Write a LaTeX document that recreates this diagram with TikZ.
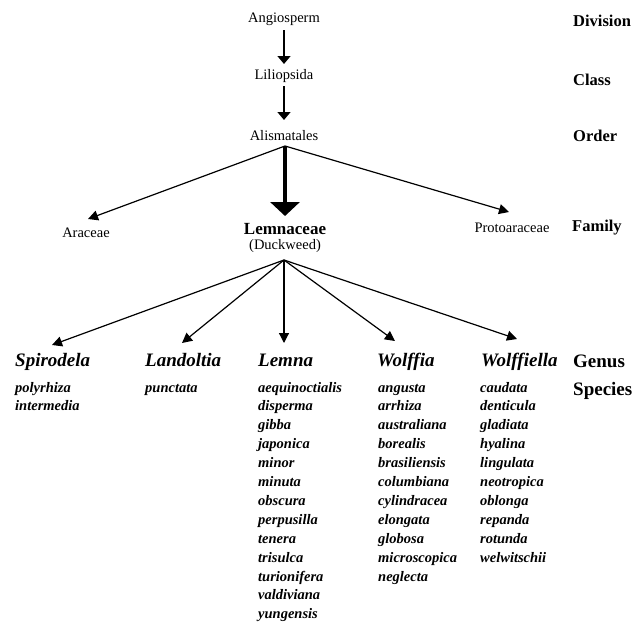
\documentclass[tikz,border=0pt]{standalone}
\usepackage{fontspec}
\setmainfont{Liberation Serif}
\usetikzlibrary{arrows.meta}
\begin{document}
\begin{tikzpicture}[x=1pt,y=-1pt,
  reg/.style={font=\fontsize{14.5}{17}\selectfont, inner sep=0pt, anchor=base},
  regb/.style={font=\fontsize{17}{20}\selectfont\bfseries, inner sep=0pt, anchor=base},
  rank/.style={font=\fontsize{16.5}{19}\selectfont\bfseries, inner sep=0pt, anchor=base west},
  rankbig/.style={font=\fontsize{19}{22}\selectfont\bfseries, inner sep=0pt, anchor=base west},
  genus/.style={font=\fontsize{19}{22}\selectfont\bfseries\itshape, inner sep=0pt, anchor=base west},
  spec/.style={font=\fontsize{14.5}{17}\selectfont\bfseries\itshape, inner sep=0pt, anchor=base west},
  smallarr/.style={line width=1.4pt, -{Triangle[width=13pt,length=8pt]}},
  bigarr/.style={line width=3.4pt, -{Triangle[width=29pt,length=14pt]}},
  fanarr/.style={line width=1.2pt, -{Triangle[width=10pt,length=10pt]}},
]
\useasboundingbox (0,0) rectangle (635,624);
\fill[white] (0,0) rectangle (635,624);

% hierarchy
\node[reg] (ang) at (284,22) {Angiosperm};
\node[reg] (lil) at (284,79) {Liliopsida};
\node[reg] (ali) at (284,140) {Alismatales};
\node[reg] (ara) at (86,237) {Araceae};
\node[regb] (lemf) at (285,234) {Lemnaceae};
\node[reg] (duck) at (285,249) {(Duckweed)};
\node[reg] (pro) at (512,232) {Protoaraceae};

% ranks
\node[rank] (rdiv) at (573,26) {Division};
\node[rank] (rcla) at (573,85) {Class};
\node[rank] (rord) at (573,141) {Order};
\node[rank] (rfam) at (572,231) {Family};
\node[rankbig] (rgen) at (573,367) {Genus};
\node[rankbig] (rspe) at (573,395) {Species};

% genera
\node[genus] (spi) at (15,366) {Spirodela};
\node[genus] (lan) at (145,366) {Landoltia};
\node[genus] (lem) at (258,366) {Lemna};
\node[genus] (wol) at (377,366) {Wolffia};
\node[genus] (wla) at (481,366) {Wolffiella};

% species
\foreach \s [count=\i from 0] in {polyrhiza,intermedia}
  \node[spec] (spi\i) at (15,392+18.9*\i) {\s};
\foreach \s [count=\i from 0] in {punctata}
  \node[spec] (lan\i) at (145,392+18.9*\i) {\s};
\foreach \s [count=\i from 0] in {aequinoctialis,disperma,gibba,japonica,minor,minuta,obscura,perpusilla,tenera,trisulca,turionifera,valdiviana,yungensis}
  \node[spec] (lem\i) at (258,392+18.9*\i) {\s};
\foreach \s [count=\i from 0] in {angusta,arrhiza,australiana,borealis,brasiliensis,columbiana,cylindracea,elongata,globosa,microscopica,neglecta}
  \node[spec] (wol\i) at (378,392+18.9*\i) {\s};
\foreach \s [count=\i from 0] in {caudata,denticula,gladiata,hyalina,lingulata,neotropica,oblonga,repanda,rotunda,welwitschii}
  \node[spec] (wla\i) at (480,392+18.9*\i) {\s};

% connector end points
\coordinate (angS) at (284,30);
\coordinate (lilN) at (284,64);
\coordinate (lilS) at (284,86);
\coordinate (aliN) at (284,120);
\coordinate (aliS) at (285,146);
\coordinate (lemN) at (285,216);
\coordinate (araN) at (88,219);
\coordinate (proN) at (509,212);
\coordinate (fan) at (284,260);
\coordinate (spiN) at (52,345);
\coordinate (lanN) at (182,343);
\coordinate (lemgN) at (284,343);
\coordinate (wolN) at (395,341);
\coordinate (wlaN) at (517,339);

\draw[smallarr] (angS) -- (lilN);
\draw[smallarr] (lilS) -- (aliN);
\draw[bigarr] (aliS) -- (lemN);
\draw[fanarr] (aliS) -- (araN);
\draw[fanarr] (aliS) -- (proN);
\draw[fanarr] (fan) -- (spiN);
\draw[fanarr] (fan) -- (lanN);
\draw[fanarr] (fan) -- (lemgN);
\draw[fanarr] (fan) -- (wolN);
\draw[fanarr] (fan) -- (wlaN);
\end{tikzpicture}
\end{document}
